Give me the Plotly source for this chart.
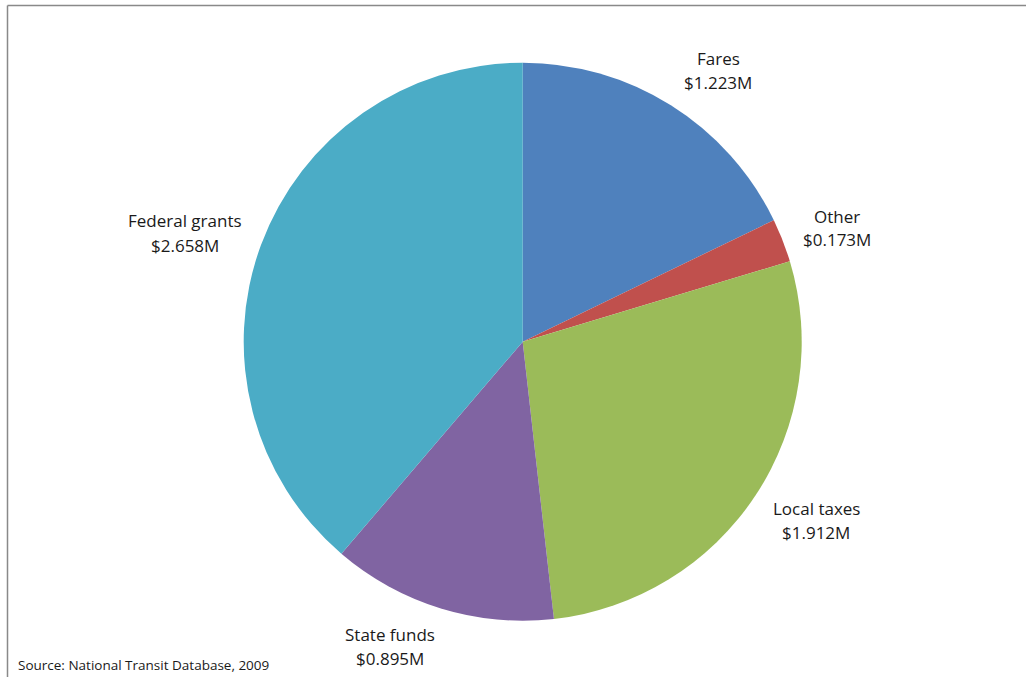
import plotly.graph_objects as go

# Transit operating revenue by source (millions of dollars)
sources = ["Fares", "Other", "Local taxes", "State funds", "Federal grants"]
revenue = [1.223, 0.173, 1.912, 0.895, 2.658]
colors = ["#4F81BD", "#C0504D", "#9BBB59", "#8064A2", "#4BACC6"]

# Label block centres in pixel space (x, y from top)
label_pos = [(718, 70), (837, 228), (816, 520.5), (390, 646), (184.5, 233)]

W, H = 1026, 677
cx, cy, r = 522.7, 341.7, 279
line_gap = 24  # px between the name line and the value line

fig = go.Figure(
    go.Pie(
        labels=sources,
        values=revenue,
        sort=False,
        direction="clockwise",
        rotation=0,
        marker=dict(colors=colors, line=dict(width=0)),
        textinfo="none",
        hoverinfo="label+value",
        showlegend=False,
        domain=dict(
            x=[(cx - r) / W, (cx + r) / W],
            y=[(H - cy - r) / H, (H - cy + r) / H],
        ),
    )
)

font_main = dict(family="Open Sans, sans-serif", size=17, color="#1a1a1a")
annotations = []
for name, val, (px, py) in zip(sources, revenue, label_pos):
    for text, off in ((name, -line_gap / 2), (f"${val:.3f}M", line_gap / 2)):
        annotations.append(
            dict(
                x=px / W, y=1 - (py + off) / H, xref="paper", yref="paper",
                text=text, showarrow=False, xanchor="center", yanchor="middle",
                borderpad=0, font=font_main,
            )
        )

annotations.append(
    dict(
        x=17 / W, y=1 - 665 / H, xref="paper", yref="paper",
        text="Source: National Transit Database, 2009", showarrow=False,
        xanchor="left", yanchor="middle", borderpad=0,
        font=dict(family="Open Sans, sans-serif", size=13.5, color="#1a1a1a"),
    )
)

# chart-area frame (left and top edges visible; extends past the canvas)
shapes = [
    dict(type="line", xref="paper", yref="paper",
         x0=7.5 / W, x1=7.5 / W, y0=-0.05, y1=1 - 5.5 / H,
         line=dict(color="#898989", width=1.5)),
    dict(type="line", xref="paper", yref="paper",
         x0=7.5 / W, x1=1.05, y0=1 - 5.5 / H, y1=1 - 5.5 / H,
         line=dict(color="#898989", width=1.5)),
]

fig.update_layout(
    width=W, height=H,
    margin=dict(l=0, r=0, t=0, b=0),
    paper_bgcolor="white",
    plot_bgcolor="white",
    annotations=annotations,
    shapes=shapes,
)

fig.write_html("out.html")
